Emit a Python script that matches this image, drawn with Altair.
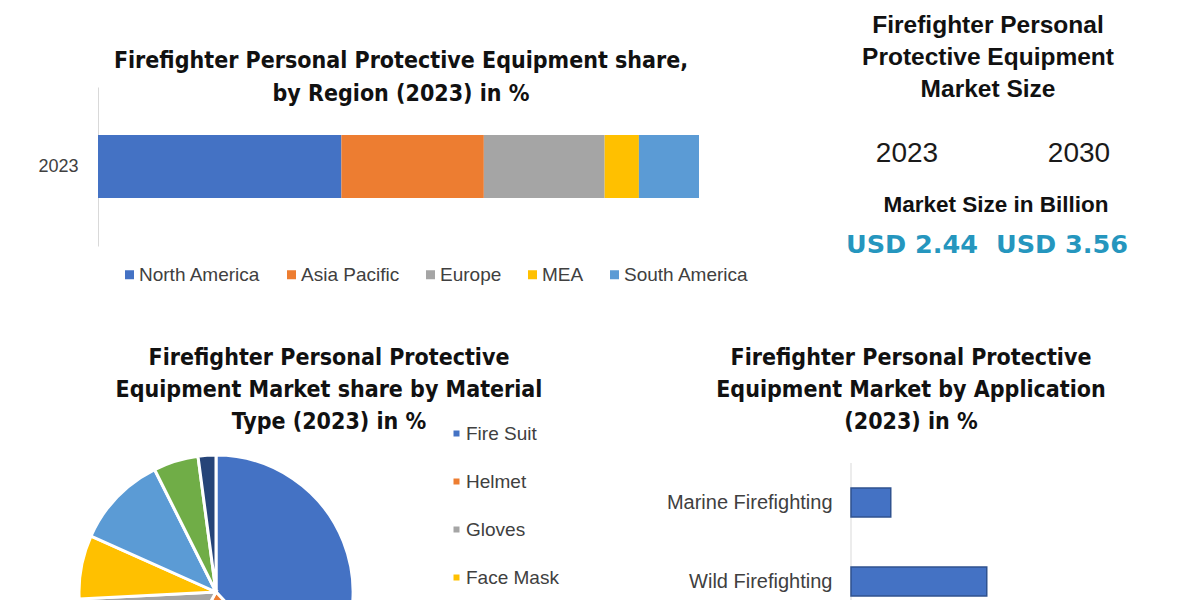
import altair as alt
import pandas as pd

# ---------------- data ----------------
regions = ["North America", "Asia Pacific", "Europe", "MEA", "South America"]
region_share = [40.5, 23.7, 20.1, 5.7, 10.0]
region_colors = ["#4472C4", "#ED7D31", "#A5A5A5", "#FFC000", "#5B9BD5"]
region_year = "2023"

materials = ["Fire Suit", "Helmet", "Gloves", "Face Mask", "Boots", "Breathing Apparatus", "Others"]
material_share = [38.0, 20.0, 16.2, 7.5, 10.9, 5.3, 2.1]
material_colors = ["#4472C4", "#ED7D31", "#A5A5A5", "#FFC000", "#5B9BD5", "#70AD47", "#264478"]
legend_materials = ["Fire Suit", "Helmet", "Gloves", "Face Mask"]

applications = ["Marine Firefighting", "Wild Firefighting"]
application_share = [5.3, 18.1]

size_years = ["2023", "2030"]
size_values = ["USD 2.44", "USD 3.56"]
size_subtitle = ["Market Size in Billion"]

title_region = ["Firefighter Personal Protective Equipment share,", "by Region (2023) in %"]
title_size = ["Firefighter Personal", "Protective Equipment", "Market Size"]
title_material = ["Firefighter Personal Protective", "Equipment Market share by Material", "Type (2023) in %"]
title_app = ["Firefighter Personal Protective", "Equipment Market by Application", "(2023) in %"]

TITLE_FONT = "Liberation Sans Narrow, DejaVu Sans Condensed, Liberation Sans, Arial, sans-serif"
BODY = "Liberation Sans, Arial, sans-serif"


def ttl(lines, offset, dx=0, font=TITLE_FONT, size=23, lh=33):
    return alt.TitleParams(lines, font=font, fontSize=size, fontWeight="bold", color="#111111",
                           lineHeight=lh, anchor="middle", frame="group", offset=offset, dx=dx)


# ---------------- panel A: stacked bar by region ----------------
df_region = pd.DataFrame({"region": regions, "share": region_share,
                          "idx": list(range(len(regions))), "year": region_year})
panel_a = alt.Chart(df_region).mark_bar(size=63).encode(
    x=alt.X("share:Q", stack="zero", scale=alt.Scale(domain=[0, 100], range=[19, 620]), axis=None),
    y=alt.Y("year:N", axis=alt.Axis(title=None, ticks=False, labelPadding=20, labelFontSize=18, offset=-19,
                                    labelFont=BODY, labelColor="#404040", domainColor="#d9d9d9")),
    color=alt.Color("region:N", scale=alt.Scale(domain=regions, range=region_colors),
                    legend=alt.Legend(title=None, orient="none", legendX=41, legendY=178,
                                      direction="horizontal", columns=5, symbolType="square",
                                      symbolSize=81, symbolStrokeWidth=0, labelFontSize=19,
                                      labelFont=BODY, labelColor="#404040", columnPadding=21,
                                      labelOffset=0)),
    order=alt.Order("idx:Q"),
).properties(width=620, height=159, title=ttl(title_region, -19, dx=12))

# ---------------- panel B: market size text ----------------
df_years = pd.DataFrame({"year": size_years})
df_vals = pd.DataFrame({"year": size_years, "value": size_values})
df_sub = pd.DataFrame({"t": size_subtitle})

years_txt = alt.Chart(df_years).mark_text(fontSize=28, font=BODY, color="#1a1a1a", baseline="middle").encode(
    x=alt.X("year:N", axis=None, scale=alt.Scale(type="point", padding=0, range=[77, 249])),
    y=alt.value(67), text="year:N")
sub_txt = alt.Chart(df_sub).mark_text(fontSize=22.5, font=BODY, fontWeight="bold", color="#111111",
                                      baseline="middle").encode(
    x=alt.value(166), y=alt.value(118), text="t:N")
vals_txt = alt.Chart(df_vals).mark_text(fontSize=25.5, font="DejaVu Sans, Open Sans, sans-serif",
                                        fontWeight="bold", color="#2596be", baseline="middle").encode(
    x=alt.X("year:N", axis=None, scale=alt.Scale(type="point", padding=0, range=[82, 232])),
    y=alt.value(158), text="value:N")
panel_b = alt.layer(years_txt, sub_txt, vals_txt).resolve_scale(x="independent").properties(
    width=316, height=159, title=ttl(title_size, -15, font=BODY, size=24.5, lh=32))

# ---------------- panel C: pie by material ----------------
df_mat = pd.DataFrame({"material": materials, "share": material_share,
                       "idx": list(range(len(materials)))})
panel_c = alt.Chart(df_mat).mark_arc(radius=137, stroke="white", strokeWidth=3, clip=True).encode(
    theta=alt.Theta("share:Q", stack=True),
    color=alt.Color("material:N", scale=alt.Scale(domain=materials, range=material_colors),
                    legend=alt.Legend(title=None, values=legend_materials, orient="none",
                                      legendX=368, legendY=-31, symbolType="square", symbolSize=36,
                                      symbolStrokeWidth=0, labelFontSize=19, labelFont=BODY,
                                      labelColor="#404040", rowPadding=28, labelOffset=0)),
    order=alt.Order("idx:Q"),
    x=alt.value(137), y=alt.value(137),
).properties(width=274, height=145, title=ttl(title_material, -10, dx=113, lh=32))

# ---------------- panel D: bars by application ----------------
df_app = pd.DataFrame({"application": applications, "share": application_share})
bars_d = alt.Chart(df_app).mark_bar(size=29, color="#4472C4", stroke="#2F528F", strokeWidth=1.5).encode(
    x=alt.X("share:Q", axis=None, scale=alt.Scale(domain=[0, 40])),
    y=alt.Y("application:N", sort=applications, scale=alt.Scale(range=[8, 166]),
            axis=alt.Axis(title=None, ticks=False, domain=False, labelPadding=19, labelFontSize=20,
                          labelFont=BODY, labelColor="#404040")),
)
axis_line = alt.Chart(df_app.head(1)).mark_rule(color="#d9d9d9", strokeWidth=1).encode(
    x=alt.value(0), y=alt.value(8), y2=alt.value(145))
panel_d = alt.layer(axis_line, bars_d).properties(width=300, height=145,
                                                   title=ttl(title_app, 21, dx=-90, lh=32))

top = alt.hconcat(panel_a, panel_b, spacing=81).resolve_scale(color="independent")
bottom = alt.hconcat(panel_c, panel_d, spacing=107).resolve_scale(color="independent")
chart = alt.vconcat(top, bottom, spacing=62).resolve_scale(color="independent").properties(
    padding={"left": 29, "top": 4, "right": 0, "bottom": 0}, background="white"
).configure_view(strokeWidth=0)

chart.save("out.html", embed_options={"renderer": "svg", "actions": False})
